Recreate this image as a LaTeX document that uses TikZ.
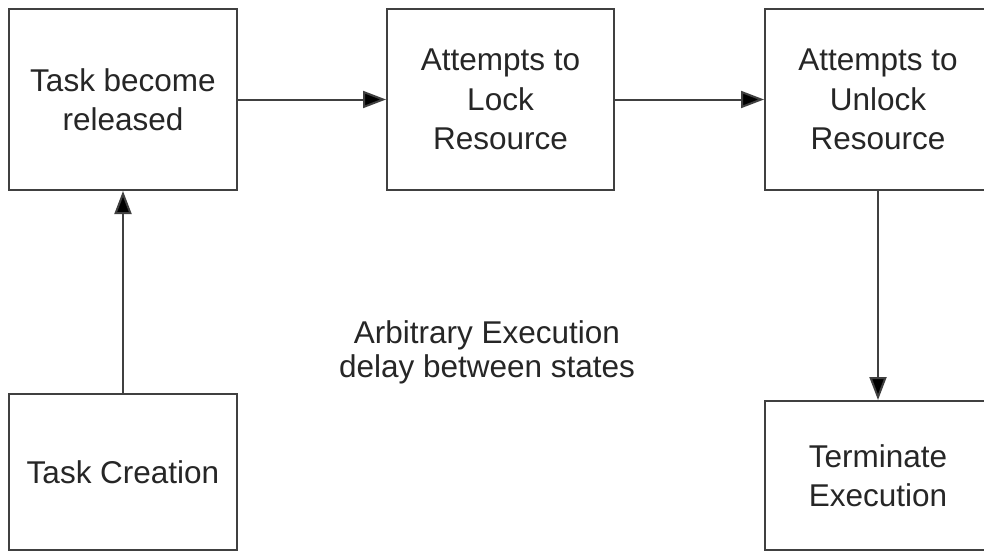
\documentclass[tikz,border=0pt]{standalone}
\usepackage{fontspec}
\setmainfont{Liberation Sans}
\usetikzlibrary{arrows.meta}
\begin{document}
\begin{tikzpicture}[x=1pt,y=-1pt,
  state/.style={draw=black!75, line width=2pt, fill=white, inner sep=0pt,
    align=center, text=black!85,
    font=\fontsize{31.5}{39.5}\selectfont},
  flow/.style={draw=black!75, line width=2pt,
    -{Triangle[length=23pt,width=17pt,fill=black]}},
  note/.style={align=center, text=black!85,
    font=\fontsize{31.5}{34}\selectfont}]
  \clip (0,0) rectangle (984,551);
  \fill[white] (0,0) rectangle (984,551);

  % states
  \node[state, minimum width=228pt, minimum height=181pt] (rel) at (123,99.5)
    {Task become\\released};
  \node[state, minimum width=227pt, minimum height=181pt] (lock) at (500.5,99.5)
    {Attempts to\\Lock\\Resource};
  \node[state, minimum width=226pt, minimum height=181pt] (unlock) at (878,99.5)
    {Attempts to\\Unlock\\Resource};
  \node[state, minimum width=228pt, minimum height=156pt] (create) at (123,472)
    {Task Creation};
  \node[state, minimum width=226pt, minimum height=149pt] (term) at (878,475.5)
    {Terminate\\Execution};

  % comment between the states
  \node[note] (delay) at (487,352) {Arbitrary Execution\\delay between states};

  % transitions
  \draw[flow] (create) -- (rel);
  \draw[flow] (rel) -- (lock);
  \draw[flow] (lock) -- (unlock);
  \draw[flow] (unlock) -- (term);
\end{tikzpicture}
\end{document}
